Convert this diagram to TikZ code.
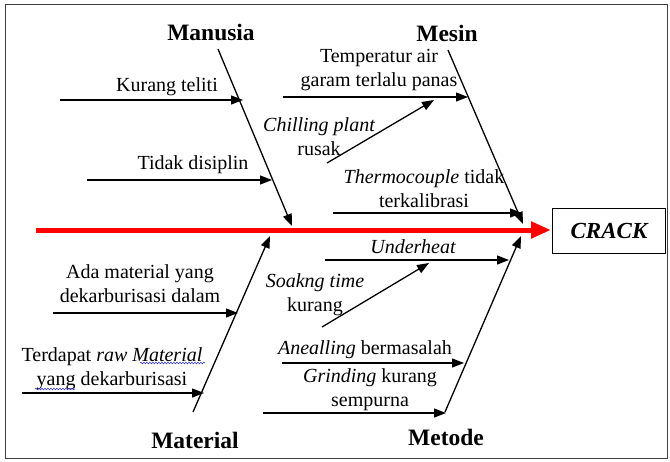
\documentclass[tikz,border=0pt]{standalone}
\usepackage{fontspec}
\setmainfont{Liberation Serif}
\usetikzlibrary{arrows.meta,decorations.pathmorphing}
\tikzset{
  arr/.style={line width=1.3pt,-{Triangle[length=12pt,width=9pt]}},
  bone/.style={line width=1.3pt,-{Triangle[length=12pt,width=9pt]}},
  spine/.style={line width=5pt,red,-{Triangle[length=20pt,width=16pt]}},
  cat/.style={font=\fontsize{23.5}{27}\selectfont\bfseries,inner sep=0pt},
  lbl/.style={font=\fontsize{20}{24}\selectfont,align=center,inner sep=0pt},
  squig/.style={blue!55!gray,line width=0.6pt,decorate,decoration={snake,amplitude=0.8pt,segment length=3pt}},
}
\begin{document}
\begin{tikzpicture}[x=1pt,y=-1pt]
\useasboundingbox (0,0) rectangle (670,461);
\draw[line width=1pt,black!75] (5,4) rectangle (667,458);
% spine
\coordinate (sp0) at (36,230);
\coordinate (sp1) at (551,230);
\draw[spine] (sp0) -- (sp1);
\node[draw,line width=1.2pt,minimum width=113pt,minimum height=45pt,font=\fontsize{23}{27}\selectfont\bfseries\itshape] (crack) at (609,231) {CRACK};
% category labels
\node[cat] (manusia) at (211,32) {Manusia};
\node[cat] (mesin) at (447,33) {Mesin};
\node[cat] (material) at (195,440) {Material};
\node[cat] (metode) at (446,437) {Metode};
% bones
\coordinate (b1s) at (218,49);  \coordinate (b1e) at (292,226);
\coordinate (b2s) at (448,50);  \coordinate (b2e) at (523,224);
\coordinate (b3s) at (193,412); \coordinate (b3e) at (270,236);
\coordinate (b4s) at (445,412); \coordinate (b4e) at (521,236);
\draw[bone] (b1s) -- (b1e);
\draw[bone] (b2s) -- (b2e);
\draw[bone] (b3s) -- (b3e);
\draw[bone] (b4s) -- (b4e);
% Manusia causes
\node[lbl] (t1) at (167,87) {Kurang teliti};
\coordinate (a1s) at (60,100); \coordinate (a1e) at (243,100);
\draw[arr] (a1s) -- (a1e);
\node[lbl] (t2) at (193,165) {Tidak disiplin};
\coordinate (a2s) at (87,180); \coordinate (a2e) at (272,180);
\draw[arr] (a2s) -- (a2e);
% Mesin causes
\node[lbl] (t3) at (379,70) {Temperatur air\\garam terlalu panas};
\coordinate (a3s) at (283,97); \coordinate (a3e) at (468,97);
\draw[arr] (a3s) -- (a3e);
\node[lbl] (t4) at (319,137) {\itshape Chilling plant\\rusak};
\coordinate (a4s) at (327,163); \coordinate (a4e) at (434,100);
\draw[arr] (a4s) -- (a4e);
\node[lbl] (t5) at (424,189) {\itshape Thermocouple\upshape{} tidak\\terkalibrasi};
\coordinate (a5s) at (333,213); \coordinate (a5e) at (522,213);
\draw[arr] (a5s) -- (a5e);
% Metode causes
\node[lbl,font=\fontsize{20}{24}\selectfont\itshape] (t6) at (413,247) {Underheat};
\coordinate (a6s) at (325,260); \coordinate (a6e) at (509,260);
\draw[arr] (a6s) -- (a6e);
\node[lbl] (t7) at (315,295) {\itshape Soakng time\\kurang};
\coordinate (a7s) at (322,327); \coordinate (a7e) at (429,263);
\draw[arr] (a7s) -- (a7e);
\node[lbl] (t8) at (365,350) {\itshape Anealling\upshape{} bermasalah};
\coordinate (a8s) at (282,363); \coordinate (a8e) at (464,363);
\draw[arr] (a8s) -- (a8e);
\node[lbl] (t9) at (370,390) {\itshape Grinding\upshape{} kurang\\sempurna};
\coordinate (a9s) at (263,413); \coordinate (a9e) at (446,413);
\draw[arr] (a9s) -- (a9e);
% Material causes
\node[lbl] (t10) at (140,284) {Ada material yang\\dekarburisasi dalam};
\coordinate (a10s) at (53,313); \coordinate (a10e) at (238,313);
\draw[arr] (a10s) -- (a10e);
\node[lbl] (t11) at (112,369) {Terdapat \itshape raw Material\\\upshape yang dekarburisasi};
\coordinate (a11s) at (22,393); \coordinate (a11e) at (204,393);
\draw[arr] (a11s) -- (a11e);
% spell-check underlines
\coordinate (w1s) at (140,363); \coordinate (w1e) at (205,363);
\coordinate (w2s) at (35,389);  \coordinate (w2e) at (75,389);
\draw[squig] (w1s) -- (w1e);
\draw[squig] (w2s) -- (w2e);
\end{tikzpicture}
\end{document}
